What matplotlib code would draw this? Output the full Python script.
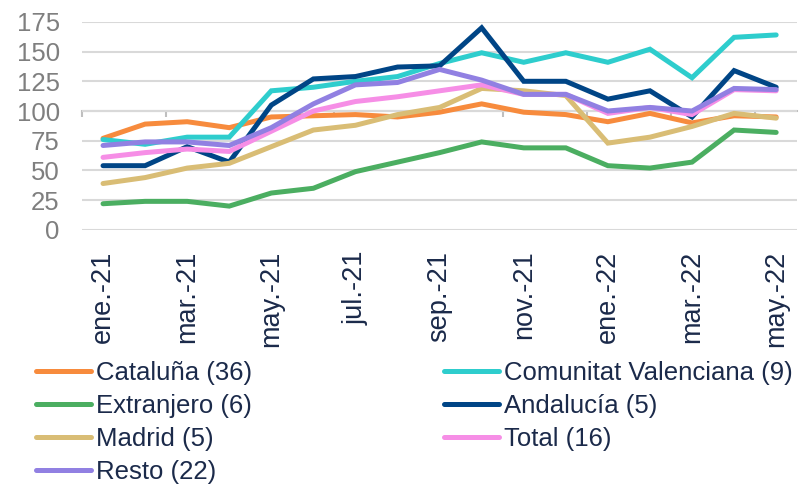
import matplotlib
matplotlib.use("Agg")
import matplotlib.pyplot as plt
import numpy as np

months = ["ene.-21", "feb.-21", "mar.-21", "abr.-21", "may.-21", "jun.-21", "jul.-21",
          "ago.-21", "sep.-21", "oct.-21", "nov.-21", "dic.-21", "ene.-22", "feb.-22",
          "mar.-22", "abr.-22", "may.-22"]

cataluna = [77, 89, 91, 86, 95, 96, 97, 95, 99, 106, 99, 97, 91, 98, 90, 96, 95]
valenciana = [76, 72, 78, 78, 117, 120, 125, 129, 140, 149, 141, 149, 141, 152, 128, 162, 164]
extranjero = [22, 24, 24, 20, 31, 35, 49, 57, 65, 74, 69, 69, 54, 52, 57, 84, 82]
andalucia = [54, 54, 70, 57, 105, 127, 129, 137, 138, 170, 125, 125, 110, 117, 95, 134, 120]
madrid = [39, 44, 52, 56, 70, 84, 88, 97, 103, 119, 117, 113, 73, 78, 87, 98, 94]
total = [61, 65, 68, 66, 83, 100, 108, 112, 117, 122, 114, 114, 98, 103, 97, 118, 117]
resto = [71, 74, 74, 71, 86, 106, 122, 124, 135, 126, 114, 114, 100, 103, 100, 119, 118]

series = [
    ("Cataluña (36)", cataluna, "#F78B3D"),
    ("Comunitat Valenciana (9)", valenciana, "#2ECDCD"),
    ("Extranjero (6)", extranjero, "#4BAE61"),
    ("Andalucía (5)", andalucia, "#004586"),
    ("Madrid (5)", madrid, "#D9BD75"),
    ("Total (16)", total, "#F68EE6"),
    ("Resto (22)", resto, "#9180E2"),
]

navy = "#1B2A4A"
grey = "#7F7F7F"
plt.rcParams["font.family"] = ["Liberation Sans", "DejaVu Sans"]

fig = plt.figure(figsize=(8, 4.86), dpi=100)
ax = fig.add_axes([0.1025, 0.527, 0.894, 0.428])
x = np.arange(len(months))

handles = {}
for name, vals, col in series:
    ln, = ax.plot(x, vals, color=col, lw=3.6, solid_capstyle="round",
                  solid_joinstyle="miter", label=name, zorder=3)
    handles[name] = ln

ax.set_xlim(-0.5, len(months) - 0.5)
ax.set_ylim(0, 175)
ax.set_yticks(np.arange(0, 176, 25))
ax.grid(axis="y", color="#D9D9D9", lw=1.5, zorder=0)
for s in ax.spines.values():
    s.set_visible(False)
ax.tick_params(axis="y", length=0, pad=16, labelsize=18.5, labelcolor=grey)
ax.set_xticks(x[::2])
ax.set_xticklabels(months[::2], rotation=90)
ax.tick_params(axis="x", length=0, pad=15, labelsize=19.5, labelcolor=navy)

# horizontal axis crossing at 100 with tick marks
ax2 = ax.twiny()
ax2.set_xlim(ax.get_xlim())
for s in ["top", "left", "right"]:
    ax2.spines[s].set_visible(False)
ax2.spines["bottom"].set_position(("data", 100))
ax2.spines["bottom"].set_color("#BFBFBF")
ax2.spines["bottom"].set_linewidth(1.5)
ax2.xaxis.set_ticks_position("bottom")
ax2.set_xticks(np.arange(-0.5, len(months), 2))
ax2.set_xticklabels([])
ax2.tick_params(axis="x", direction="out", length=4.5, width=1.5, color="#BFBFBF")
ax2.set_zorder(ax.get_zorder() - 1)
ax.patch.set_visible(False)

order = ["Cataluña (36)", "Extranjero (6)", "Madrid (5)", "Resto (22)",
         "Comunitat Valenciana (9)", "Andalucía (5)", "Total (16)"]
leg = fig.legend([handles[n] for n in order], order, ncol=2, loc="upper left",
                 bbox_to_anchor=(0.045, 0.257), frameon=False,
                 prop={"size": 18.5},
                 handlelength=2.15, handletextpad=0.2, columnspacing=7.45,
                 labelspacing=0.35, borderaxespad=0, borderpad=0)
for t in leg.get_texts():
    t.set_color(navy)

fig.savefig("out.png", dpi=100)
